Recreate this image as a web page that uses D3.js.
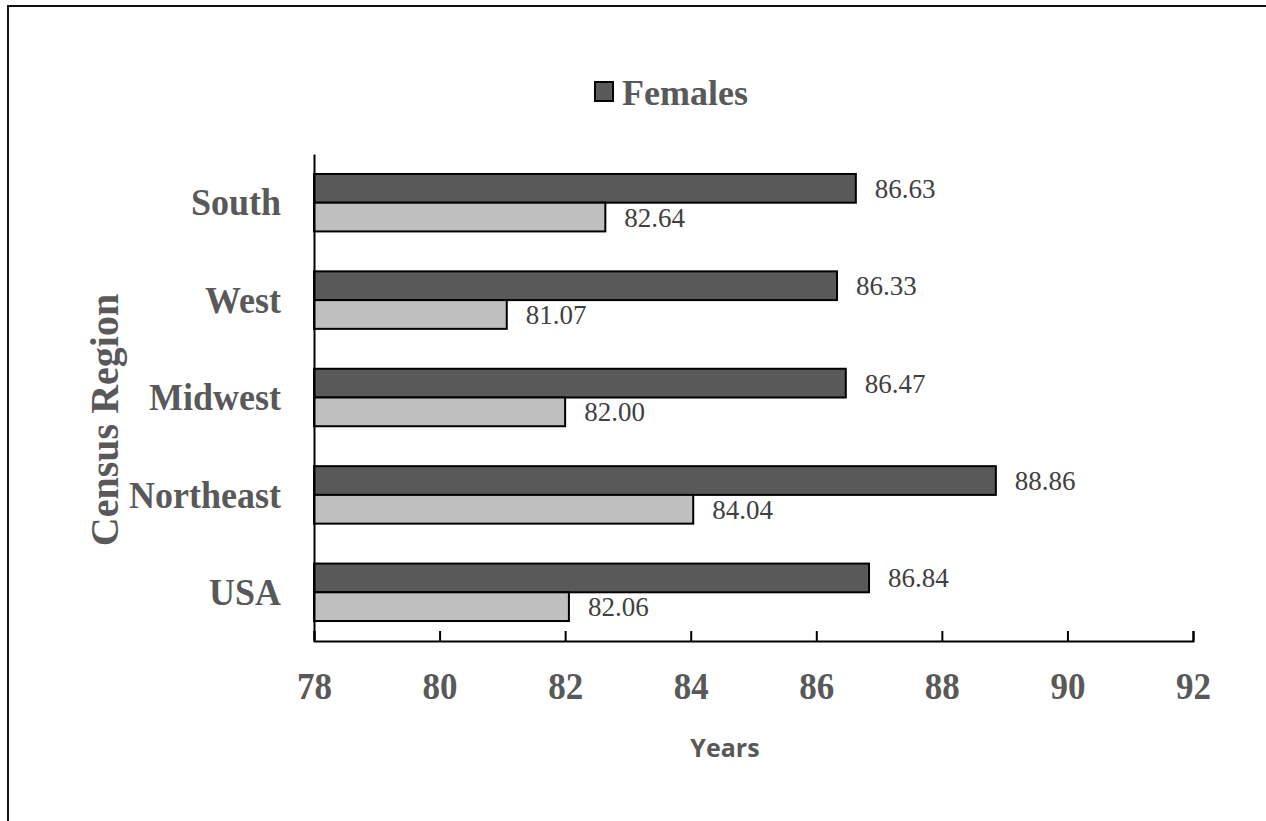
<!DOCTYPE html>
<html><head><meta charset="utf-8">
<script src="https://cdn.jsdelivr.net/npm/d3@7"></script>
<style>html,body{margin:0;padding:0;background:#fff;overflow:hidden}</style>
</head><body>
<svg id="chart" width="1266" height="821"></svg>
<script>
const categories = ["South", "West", "Midwest", "Northeast", "USA"];
const seriesNames = ["Females", "Males"];
const females = [86.63, 86.33, 86.47, 88.86, 86.84];
const males = [82.64, 81.07, 82.00, 84.04, 82.06];
const xTicks = [78, 80, 82, 84, 86, 88, 90, 92];
const xTitle = "Years";
const yTitle = "Census Region";

const svg = d3.select("#chart");
const colors = {Females: "#595959", Males: "#bfbfbf"};
const serif = "'Liberation Serif','Times New Roman',serif";

svg.append("rect").attr("x", 8).attr("y", 6).attr("width", 1262).attr("height", 830)
  .attr("fill", "#fff").attr("stroke", "#111").attr("stroke-width", 2);

const x = d3.scaleLinear().domain([78, 92]).range([314, 1193]);
const y = d3.scaleBand().domain(categories).range([154, 641]).paddingInner(0.41).paddingOuter(0.205);
const sub = d3.scaleBand().domain(seriesNames).range([0, y.bandwidth()]);

const data = [];
categories.forEach((c, i) => {
  data.push({cat: c, series: "Females", v: females[i]});
  data.push({cat: c, series: "Males", v: males[i]});
});

// bars
svg.append("g").selectAll("rect").data(data).join("rect")
  .attr("x", x(78))
  .attr("y", d => y(d.cat) + sub(d.series))
  .attr("width", d => x(d.v) - x(78))
  .attr("height", sub.bandwidth())
  .attr("fill", d => colors[d.series])
  .attr("stroke", "#000").attr("stroke-width", 2);

// value labels
svg.append("g").selectAll("text").data(data).join("text")
  .attr("x", d => x(d.v) + 19)
  .attr("y", d => y(d.cat) + sub(d.series) + sub.bandwidth() / 2 + 9.5)
  .attr("font-family", serif).attr("font-size", 27).attr("fill", "#404040")
  .text(d => d.v.toFixed(2));

// x axis
const xAxis = d3.axisBottom(x).tickValues(xTicks).tickSize(-10).tickSizeOuter(-10).tickFormat(d3.format("d"));
const gx = svg.append("g").attr("transform", "translate(0,641)").call(xAxis);
gx.select(".domain").attr("stroke", "#000").attr("stroke-width", 2);
gx.selectAll(".tick line").attr("stroke", "#000").attr("stroke-width", 2);
gx.selectAll(".tick text").attr("font-family", serif).attr("font-weight", "bold")
  .attr("font-size", 35).attr("fill", "#595959").attr("dy", null).attr("y", 58)
  .attr("transform", "translate(0,58) scale(1,1.08) translate(0,-58)");

// y axis
const yAxis = d3.axisLeft(y).tickSize(0).tickSizeOuter(0).tickPadding(33);
const gy = svg.append("g").attr("transform", "translate(314,0)").call(yAxis);
gy.select(".domain").attr("stroke", "#000").attr("stroke-width", 2);
gy.selectAll(".tick text").attr("font-family", serif).attr("font-weight", "bold")
  .attr("font-size", 36).attr("fill", "#595959").attr("dy", "0.38em")
  .attr("transform", "scale(1,1.06)").attr("y", -y.bandwidth() * 0.03);

// axis titles
svg.append("text").attr("x", 725).attr("y", 757).attr("text-anchor", "middle")
  .attr("font-family", "'Open Sans',sans-serif").attr("font-weight", "bold")
  .attr("font-size", 25).attr("fill", "#595959").text(xTitle);
svg.append("text").attr("transform", "translate(118,420) rotate(-90)").attr("text-anchor", "middle")
  .attr("font-family", serif).attr("font-weight", "bold")
  .attr("font-size", 40).attr("fill", "#595959").text(yTitle);

// legend
const lg = svg.append("g");
lg.append("rect").attr("x", 595).attr("y", 82).attr("width", 18).attr("height", 19)
  .attr("fill", colors.Females).attr("stroke", "#000").attr("stroke-width", 2);
lg.append("text").attr("x", 622).attr("y", 105)
  .attr("font-family", serif).attr("font-weight", "bold")
  .attr("font-size", 36).attr("fill", "#595959").text(seriesNames[0]);
</script>
</body></html>
